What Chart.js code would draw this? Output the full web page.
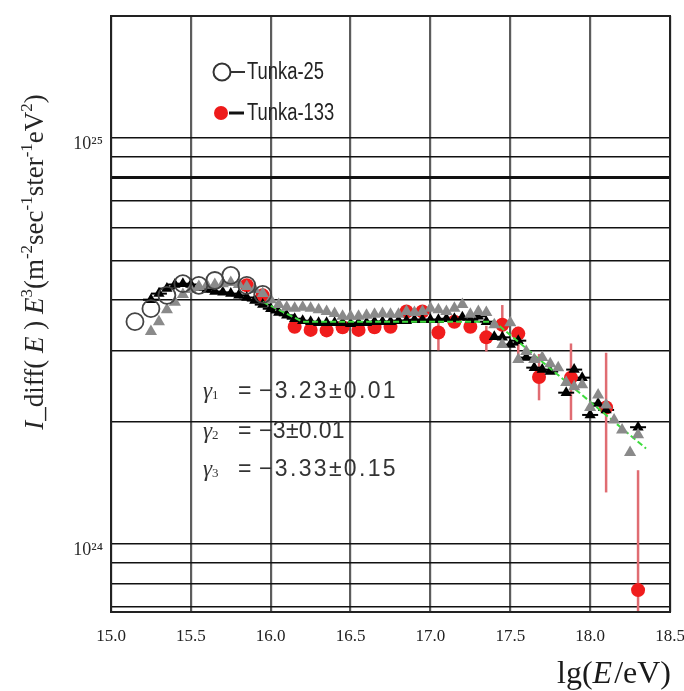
<!DOCTYPE html>
<html><head><meta charset="utf-8">
<script src="https://cdn.jsdelivr.net/npm/chart.js@4.4.0/dist/chart.umd.min.js"></script>
<style>html,body{margin:0;padding:0;background:#fff}canvas{display:block}</style>
</head><body>
<canvas id="c" width="684" height="691" style="width:684px;height:691px"></canvas>
<script>
// ---------- data (values in units of 1e24) ----------
const UNIT = 1e24;
const xTicks = [15.0, 15.5, 16.0, 16.5, 17.0, 17.5, 18.0, 18.5];
const yGridValues = [7e23, 8e23, 9e23, 1e24, 2e24, 3e24, 4e24, 5e24, 6e24, 7e24, 8e24, 9e24, 1e25];
const yLabelValues = [1e24, 1e25];

const tunka25Lg  = [15.15, 15.25, 15.35, 15.45, 15.55, 15.65, 15.75, 15.85, 15.95];
const tunka25Val = [3.53, 3.80, 4.10, 4.38, 4.34, 4.46, 4.59, 4.34, 4.12];

const tunka133Lg  = [15.85, 15.95, 16.15, 16.25, 16.35, 16.45, 16.55, 16.65, 16.75, 16.85, 16.95, 17.05, 17.15, 17.25, 17.35, 17.45, 17.55, 17.68, 17.88, 18.10, 18.30];
const tunka133Val = [4.34, 4.10, 3.43, 3.37, 3.36, 3.42, 3.37, 3.42, 3.43, 3.74, 3.74, 3.32, 3.53, 3.43, 3.23, 3.47, 3.30, 2.58, 2.57, 2.17, 0.77];
const tunka133Hi  = [4.42, 4.18, 3.50, 3.44, 3.43, 3.49, 3.44, 3.49, 3.50, 3.82, 3.82, 3.60, 3.62, 3.52, 3.45, 3.88, 3.43, 2.94, 3.12, 2.96, 1.52];
const tunka133Lo  = [4.26, 4.02, 3.36, 3.30, 3.29, 3.35, 3.30, 3.35, 3.36, 3.66, 3.66, 3.00, 3.44, 3.34, 2.98, 3.07, 2.88, 2.26, 2.02, 1.34, 0.50];

const blackLg  = [15.25, 15.30, 15.35, 15.40, 15.45, 15.50, 15.55, 15.60, 15.65, 15.70, 15.75, 15.80, 15.85, 15.90, 15.95,
                  16.00, 16.05, 16.10, 16.15, 16.20, 16.25, 16.30, 16.35, 16.40, 16.45, 16.50, 16.55, 16.60, 16.65, 16.70,
                  16.75, 16.80, 16.85, 16.90, 16.95, 17.00, 17.05, 17.10, 17.15, 17.20, 17.25, 17.30, 17.35, 17.40, 17.45,
                  17.50, 17.55, 17.60, 17.65, 17.70, 17.75, 17.85, 17.90, 17.95, 18.00, 18.05, 18.10, 18.30];
const blackVal = [4.00, 4.14, 4.26, 4.36, 4.38, 4.36, 4.29, 4.24, 4.19, 4.17, 4.14, 4.10, 4.05, 3.98, 3.89,
                  3.80, 3.72, 3.66, 3.59, 3.55, 3.53, 3.51, 3.51, 3.51, 3.51, 3.49, 3.51, 3.51, 3.53, 3.53,
                  3.53, 3.55, 3.55, 3.57, 3.57, 3.57, 3.57, 3.59, 3.59, 3.62, 3.57, 3.64, 3.53, 3.24, 3.23,
                  3.10, 3.17, 2.88, 2.72, 2.69, 2.66, 2.36, 2.69, 2.57, 2.08, 2.22, 2.14, 1.94];
const blackXErr = 0.05;

const grayLg  = [15.25, 15.30, 15.35, 15.40, 15.45, 15.50, 15.55, 15.60, 15.65, 15.70, 15.75, 15.80, 15.85, 15.90, 15.95,
                 16.00, 16.05, 16.10, 16.15, 16.20, 16.25, 16.30, 16.35, 16.40, 16.45, 16.50, 16.55, 16.60, 16.65, 16.70,
                 16.75, 16.80, 16.85, 16.90, 16.95, 17.00, 17.05, 17.10, 17.15, 17.20, 17.25, 17.30, 17.35, 17.40, 17.45,
                 17.50, 17.55, 17.60, 17.65, 17.70, 17.75, 17.80, 17.85, 17.90, 17.95, 18.00, 18.05, 18.10, 18.15, 18.20,
                 18.25, 18.30];
const grayVal = [3.34, 3.53, 3.78, 3.94, 4.12, 4.24, 4.31, 4.34, 4.36, 4.38, 4.41, 4.36, 4.31, 4.24, 4.14,
                 4.00, 3.89, 3.83, 3.81, 3.83, 3.81, 3.78, 3.74, 3.70, 3.64, 3.64, 3.64, 3.66, 3.68, 3.70,
                 3.68, 3.68, 3.74, 3.72, 3.74, 3.81, 3.78, 3.74, 3.81, 3.89, 3.68, 3.74, 3.72, 3.47, 3.10,
                 3.51, 2.85, 2.98, 2.85, 2.88, 2.78, 2.72, 2.50, 2.44, 2.47, 2.17, 2.33, 2.20, 2.02, 1.91,
                 1.68, 1.86];

const fitLg  = [15.95, 16.20, 17.40, 18.35];
const fitVal = [3.95, 3.53, 3.53, 1.72];

const legendLabels = ['Tunka-25', 'Tunka-133'];
const gammaLabels = [['1', '\u22123.23\u00b10.01'], ['2', '\u22123\u00b10.01'], ['3', '\u22123.33\u00b10.15']];

// ---------- helpers ----------
const pts = (lg, v) => lg.map((x, i) => ({x: x, y: v[i] * UNIT}));
const SERIF = '"Liberation Serif", "Times New Roman", serif';
const SANS = '"Liberation Sans", Arial, sans-serif';

function richWidth(ctx, segs) {
  let w = 0;
  for (const s of segs) { ctx.font = s.f; w += ctx.measureText(s.t).width + (s.sp || 0); }
  return w;
}
function drawRich(ctx, segs, x, y) {
  let cx = x;
  for (const s of segs) {
    ctx.font = s.f;
    ctx.fillText(s.t, cx, y + (s.dy || 0));
    cx += ctx.measureText(s.t).width + (s.sp || 0);
  }
}

const errorBars = {
  id: 'errorBars',
  beforeDatasetsDraw(chart) {
    const {ctx, chartArea: a, scales: {x, y}} = chart;
    ctx.save();
    ctx.beginPath(); ctx.rect(a.left, a.top, a.right - a.left, a.bottom - a.top); ctx.clip();
    ctx.strokeStyle = '#e06c72'; ctx.lineWidth = 2.5;
    tunka133Lg.forEach((lg, i) => {
      const px = x.getPixelForValue(lg);
      ctx.beginPath();
      ctx.moveTo(px, y.getPixelForValue(tunka133Hi[i] * UNIT));
      ctx.lineTo(px, y.getPixelForValue(tunka133Lo[i] * UNIT));
      ctx.stroke();
    });
    ctx.strokeStyle = '#000'; ctx.lineWidth = 2;
    blackLg.forEach((lg, i) => {
      const py = y.getPixelForValue(blackVal[i] * UNIT);
      ctx.beginPath();
      ctx.moveTo(x.getPixelForValue(lg - blackXErr), py);
      ctx.lineTo(x.getPixelForValue(lg + blackXErr), py);
      ctx.stroke();
    });
    ctx.restore();
  }
};

const decorations = {
  id: 'decorations',
  afterDraw(chart) {
    const {ctx, chartArea: a} = chart;
    ctx.save();
    // frame
    ctx.strokeStyle = '#222'; ctx.lineWidth = 2;
    ctx.strokeRect(a.left, a.top, a.right - a.left, a.bottom - a.top);

    // legend
    ctx.textBaseline = 'middle';
    ctx.fillStyle = '#fff'; ctx.strokeStyle = '#333'; ctx.lineWidth = 2;
    ctx.beginPath(); ctx.arc(222, 72, 8.5, 0, Math.PI * 2); ctx.fill(); ctx.stroke();
    ctx.beginPath(); ctx.moveTo(231, 72); ctx.lineTo(245, 72); ctx.stroke();
    ctx.fillStyle = '#ee1a1a';
    ctx.beginPath(); ctx.arc(221, 113, 7, 0, Math.PI * 2); ctx.fill();
    ctx.strokeStyle = '#111'; ctx.lineWidth = 3;
    ctx.beginPath(); ctx.moveTo(229, 113); ctx.lineTo(244, 113); ctx.stroke();
    ctx.fillStyle = '#222'; ctx.font = '23px ' + SANS;
    [[legendLabels[0], 72], [legendLabels[1], 113]].forEach(([txt, yy]) => {
      ctx.save(); ctx.translate(247, yy); ctx.scale(0.8, 1); ctx.fillText(txt, 0, 1); ctx.restore();
    });

    // gamma annotations
    ctx.fillStyle = '#333';
    const gy = [392, 432, 470];
    const gEnd = [398, 345, 398];
    gammaLabels.forEach((g, i) => {
      drawRich(ctx, [
        {t: '\u03b3', f: 'italic 23px ' + SERIF},
        {t: g[0], f: '13px ' + SERIF, dy: 4}
      ], 203, gy[i]);
      ctx.font = '23px ' + SANS;
      ctx.fillText('=', 238, gy[i]);
      const w0 = ctx.measureText(g[1]).width;
      const ls = Math.max(0, (gEnd[i] - 259 - w0) / g[1].length);
      ctx.letterSpacing = ls.toFixed(2) + 'px';
      ctx.fillText(g[1], 259, gy[i]);
      ctx.letterSpacing = '0px';
    });

    // y-axis title
    ctx.fillStyle = '#262626';
    ctx.textBaseline = 'alphabetic';
    const F = 27, S = 17, D = -11;
    const yt = [
      {t: 'I', f: 'italic ' + F + 'px ' + SERIF},
      {t: '_diff( ', f: F + 'px ' + SERIF},
      {t: 'E', f: 'italic ' + F + 'px ' + SERIF},
      {t: ' ) ', f: F + 'px ' + SERIF},
      {t: 'E', f: 'italic ' + F + 'px ' + SERIF},
      {t: '3', f: S + 'px ' + SERIF, dy: D},
      {t: '(m', f: F + 'px ' + SERIF},
      {t: '-2', f: S + 'px ' + SERIF, dy: D},
      {t: 'sec', f: F + 'px ' + SERIF},
      {t: '-1', f: S + 'px ' + SERIF, dy: D},
      {t: 'ster', f: F + 'px ' + SERIF},
      {t: '-1', f: S + 'px ' + SERIF, dy: D},
      {t: 'eV', f: F + 'px ' + SERIF},
      {t: '2', f: S + 'px ' + SERIF, dy: D},
      {t: ')', f: F + 'px ' + SERIF}
    ];
    ctx.translate(43, 262);
    ctx.rotate(-Math.PI / 2);
    const w = richWidth(ctx, yt);
    drawRich(ctx, yt, -w / 2, 0);
    ctx.setTransform(1, 0, 0, 1, 0, 0);

    // x-axis title
    ctx.fillStyle = '#1a1a1a';
    const xt = [
      {t: 'lg(', f: '32px ' + SERIF},
      {t: 'E', f: 'italic 32px ' + SERIF, sp: 2},
      {t: '/eV)', f: '32px ' + SERIF}
    ];
    const xw = richWidth(ctx, xt);
    drawRich(ctx, xt, 671 - xw, 683);
    ctx.restore();
  }
};

new Chart(document.getElementById('c'), {
  type: 'scatter',
  data: {
    datasets: [
      {label: legendLabels[0], data: pts(tunka25Lg, tunka25Val), order: 0,
       pointStyle: 'circle', pointRadius: 8.5, borderColor: '#444', borderWidth: 1.8, backgroundColor: 'rgba(255,255,255,0)'},
      {label: 'gray', data: pts(grayLg, grayVal), order: 1,
       pointStyle: 'triangle', pointRadius: 7, borderWidth: 0, backgroundColor: '#8a8a8a', borderColor: '#8a8a8a'},
      {label: 'fit', data: pts(fitLg, fitVal), order: 2, showLine: true, pointRadius: 0,
       borderColor: '#3ddc3d', borderWidth: 2, borderDash: [6, 3]},
      {label: 'black', data: pts(blackLg, blackVal), order: 3,
       pointStyle: 'triangle', pointRadius: 6.5, borderWidth: 0, backgroundColor: '#000', borderColor: '#000'},
      {label: legendLabels[1], data: pts(tunka133Lg, tunka133Val), order: 4,
       pointStyle: 'circle', pointRadius: 7, borderWidth: 0, backgroundColor: '#f01c1c', borderColor: '#f01c1c'}
    ]
  },
  options: {
    responsive: false, animation: false,
    layout: {padding: {left: 0, right: 14, top: 16, bottom: 0}},
    plugins: {legend: {display: false}, tooltip: {enabled: false}},
    scales: {
      x: {
        type: 'linear', min: 15, max: 18.5,
        afterBuildTicks: s => { s.ticks = xTicks.map(v => ({value: v})); },
        afterFit: s => { s.height = 79; s.paddingLeft = 0; s.paddingRight = 0; },
        grid: {color: '#5c5c5c', lineWidth: 2.2, drawTicks: false},
        border: {display: false},
        ticks: {padding: 14, color: '#222', font: {family: SERIF, size: 17}, maxRotation: 0, autoSkip: false,
                callback: v => Number(v).toFixed(1)}
      },
      y: {
        type: 'logarithmic', min: 6.8e23, max: 2e25,
        afterBuildTicks: s => { s.ticks = yGridValues.map(v => ({value: v})); },
        afterFit: s => { s.width = 111; s.paddingTop = 0; s.paddingBottom = 0; },
        grid: {color: '#111', lineWidth: c => (c.tick && c.tick.value === 8e24 ? 3 : 1.5), drawTicks: false},
        border: {display: false},
        ticks: {padding: 8, labelOffset: 6, color: '#2a2a2a', font: {family: SERIF, size: 18}, autoSkip: false,
                callback: v => v === yLabelValues[0] ? '10\u00b2\u2074' : (v === yLabelValues[1] ? '10\u00b2\u2075' : '')}
      }
    }
  },
  plugins: [errorBars, decorations]
});
</script>
</body></html>
